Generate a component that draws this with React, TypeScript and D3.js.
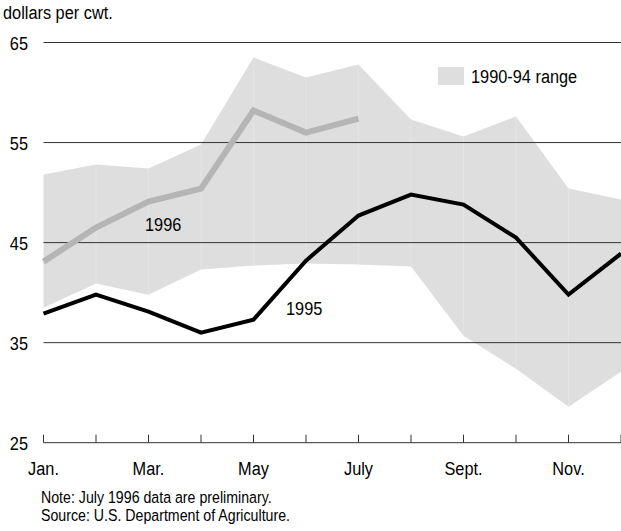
import React from 'react';
import * as d3 from 'd3';

const months = ['Jan', 'Feb', 'Mar', 'Apr', 'May', 'Jun', 'Jul', 'Aug', 'Sep', 'Oct', 'Nov', 'Dec'];
const monthLabels = ['Jan.', '', 'Mar.', '', 'May', '', 'July', '', 'Sept.', '', 'Nov.', ''];
const yTicks = [25, 35, 45, 55, 65];

const rangeHigh = [51.8, 52.8, 52.4, 54.8, 63.5, 61.5, 62.8, 57.3, 55.6, 57.6, 50.4, 49.3];
const rangeLow = [38.5, 40.9, 39.8, 42.3, 42.7, 42.9, 42.8, 42.6, 35.7, 32.4, 28.6, 32.1];
const y1995 = [37.9, 39.8, 38.1, 36.0, 37.3, 43.2, 47.7, 49.8, 48.8, 45.5, 39.8, 43.9];
const y1996 = [43.1, 46.5, 49.1, 50.4, 58.2, 56.0, 57.4];

const W = 621;
const H = 531;
const FONT = '"Liberation Sans", Arial, sans-serif';
const SQUEEZE = 0.86; // the original type is a narrow grotesque

// narrow text: regular sans squeezed horizontally
const T: React.FC<{ x: number; y: number; size?: number; anchor?: string; children: React.ReactNode }> =
  ({ x, y, size = 19, anchor = 'start', children }) => (
    <text transform={`translate(${x},${y}) scale(${SQUEEZE},1)`} fontSize={size} textAnchor={anchor} fill="#000">
      {children}
    </text>
  );

const App: React.FC = () => {
  const x = d3.scalePoint<string>().domain(months).range([43.5, 621]);
  const y = d3.scaleLinear().domain([25, 65]).range([442.7, 42.5]);

  const band = d3.area<number>()
    .x((_, i) => x(months[i])!)
    .y0((_, i) => y(rangeLow[i]))
    .y1(d => y(d));

  const line = d3.line<number>()
    .x((_, i) => x(months[i])!)
    .y(d => y(d));

  return (
    <svg width={W} height={H} style={{ position: 'absolute', left: 0, top: 0, background: '#fff' }} fontFamily={FONT}>
      <T x={3} y={19}>dollars per cwt.</T>

      <path d={band(rangeHigh) || ''} fill="#dedede" />
      {/* faint seams inside the band, one per month */}
      {months.slice(1, 11).map((m, i) => (
        <line key={m} x1={x(m)} x2={x(m)} y1={y(rangeHigh[i + 1])} y2={y(rangeLow[i + 1])}
          stroke="#e4e4e4" strokeWidth={1} />
      ))}

      {yTicks.slice(1).map(t => (
        <line key={t} x1={43.5} x2={W} y1={y(t)} y2={y(t)} stroke="#333" strokeWidth={1} />
      ))}
      {yTicks.map(t => (
        <T key={t} x={28} y={y(t) + 7} anchor="end">{t}</T>
      ))}

      <line x1={43.5} x2={W} y1={y(25)} y2={y(25)} stroke="#333" strokeWidth={1} />
      {months.map(m => (
        <line key={m} x1={x(m)} x2={x(m)} y1={y(25)} y2={y(25) - 8} stroke="#333" strokeWidth={1} />
      ))}
      {months.map((m, i) => monthLabels[i] ? (
        <T key={m} x={x(m)!} y={475} anchor="middle">{monthLabels[i]}</T>
      ) : null)}

      <path d={line(y1996) || ''} fill="none" stroke="#b5b5b5" strokeWidth={6} strokeLinejoin="miter" />
      <path d={line(y1995) || ''} fill="none" stroke="#000" strokeWidth={4} strokeLinejoin="miter" />

      <T x={145} y={231}>1996</T>
      <T x={286} y={315}>1995</T>

      <rect x={438} y={67} width={26} height={18} fill="#dedede" />
      <T x={471} y={83}>1990-94 range</T>

      <T x={41} y={503} size={16.5}>Note: July 1996 data are preliminary.</T>
      <T x={41} y={521} size={16.5}>Source: U.S. Department of Agriculture.</T>
    </svg>
  );
};

export default App;
